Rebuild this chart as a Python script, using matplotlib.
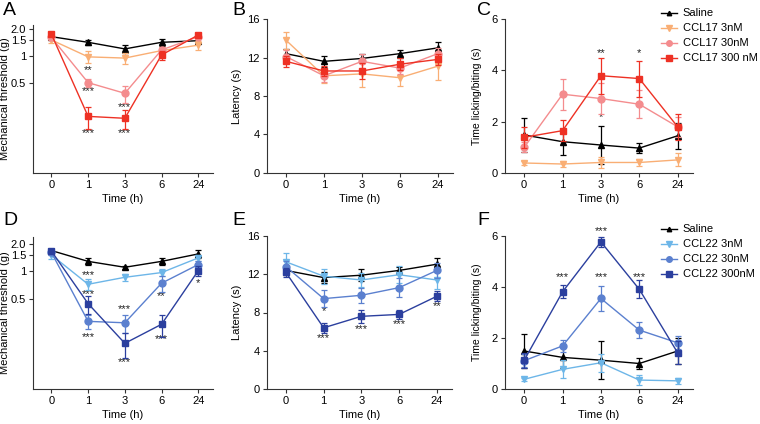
import numpy as np
import matplotlib
matplotlib.use("Agg")
from matplotlib import pyplot as plt
from matplotlib.ticker import FixedLocator, NullLocator

plt.rcParams['font.family'] = ['Liberation Sans', 'DejaVu Sans']
plt.rcParams['font.size'] = 8

times = ["0", "1", "3", "6", "24"]

# panel A - mechanical threshold, CCL17
a_saline = [1.63, 1.41, 1.19, 1.41, 1.47]
a_saline_err = [0.10, 0.10, 0.12, 0.12, 0.10]
a_3 = [1.50, 0.97, 0.94, 1.14, 1.31]
a_3_err = [0.12, 0.15, 0.13, 0.10, 0.15]
a_30 = [1.60, 0.50, 0.38, 1.16, 1.63]
a_30_err = [0.10, 0.05, 0.08, 0.10, 0.10]
a_300 = [1.74, 0.21, 0.20, 1.02, 1.70]
a_300_err = [0.08, 0.06, 0.05, 0.12, 0.10]

# panel B - latency, CCL17
b_saline = [12.4, 11.6, 11.9, 12.4, 13.0]
b_saline_err = [0.5, 0.6, 0.5, 0.4, 0.6]
b_3 = [13.8, 10.1, 10.3, 9.9, 11.1]
b_3_err = [0.9, 0.8, 1.4, 0.9, 1.4]
b_30 = [12.1, 10.1, 11.6, 10.9, 12.4]
b_30_err = [0.7, 0.6, 0.8, 0.6, 0.6]
b_300 = [11.6, 10.6, 10.6, 11.3, 11.8]
b_300_err = [0.6, 0.5, 0.8, 0.6, 0.6]

# panel C - licking/biting, CCL17
c_saline = [1.48, 1.22, 1.09, 0.97, 1.45]
c_saline_err = [0.65, 0.5, 0.75, 0.2, 0.5]
c_3 = [0.39, 0.35, 0.41, 0.41, 0.51]
c_3_err = [0.08, 0.1, 0.2, 0.15, 0.25]
c_30 = [1.0, 3.07, 2.9, 2.68, 1.8]
c_30_err = [0.2, 0.6, 0.6, 0.55, 0.4]
c_300 = [1.39, 1.65, 3.79, 3.68, 1.8]
c_300_err = [0.4, 0.4, 0.7, 0.7, 0.5]

# panel D - mechanical threshold, CCL22
d_saline = [1.70, 1.29, 1.11, 1.29, 1.56]
d_saline_err = [0.08, 0.10, 0.04, 0.10, 0.15]
d_3 = [1.52, 0.72, 0.86, 0.97, 1.41]
d_3_err = [0.15, 0.10, 0.08, 0.08, 0.10]
d_30 = [1.62, 0.28, 0.27, 0.74, 1.19]
d_30_err = [0.10, 0.05, 0.06, 0.15, 0.10]
d_300 = [1.68, 0.44, 0.16, 0.26, 1.02]
d_300_err = [0.08, 0.10, 0.05, 0.07, 0.12]

# panel E - latency, CCL22
e_saline = [12.4, 11.65, 11.9, 12.4, 13.05]
e_saline_err = [0.5, 0.6, 0.6, 0.4, 0.6]
e_3 = [13.3, 11.8, 11.4, 11.95, 11.4]
e_3_err = [0.9, 0.8, 0.7, 0.9, 0.9]
e_30 = [12.8, 9.45, 9.8, 10.6, 12.4]
e_30_err = [0.6, 0.9, 0.8, 1.0, 0.8]
e_300 = [12.2, 6.4, 7.6, 7.8, 9.7]
e_300_err = [0.5, 0.5, 0.7, 0.5, 0.5]

# panel F - licking/biting, CCL22
f_saline = [1.49, 1.24, 1.13, 1.0, 1.49]
f_saline_err = [0.65, 0.4, 0.75, 0.2, 0.5]
f_3 = [0.38, 0.77, 1.03, 0.35, 0.32]
f_3_err = [0.05, 0.35, 0.35, 0.2, 0.12]
f_30 = [1.11, 1.69, 3.55, 2.31, 1.81]
f_30_err = [0.25, 0.25, 0.5, 0.3, 0.25]
f_300 = [1.13, 3.81, 5.77, 3.91, 1.42]
f_300_err = [0.3, 0.25, 0.2, 0.35, 0.45]

labels17 = ["Saline", "CCL17 3nM", "CCL17 30nM", "CCL17 300 nM"]
labels22 = ["Saline", "CCL22 3nM", "CCL22 30nM", "CCL22 300nM"]

# significance marks: (time index, y, text)
stars_a = [(1, 0.69, "**"), (1, 0.40, "***"), (2, 0.27, "***"), (1, 0.135, "***"), (2, 0.135, "***")]
stars_c = [(2, 4.67, "**"), (3, 4.67, "*"), (2, 2.16, "*")]
stars_d = [(1, 0.92, "***"), (1, 0.56, "***"), (1, 0.19, "***"), (2, 0.385, "***"), (2, 0.10, "***"),
           (3, 0.53, "**"), (3, 0.18, "***"), (4, 0.75, "*")]
stars_e = [(1, 8.2, "*"), (1, 5.3, "***"), (2, 6.3, "***"), (3, 6.8, "***"), (4, 8.7, "**")]
stars_f = [(2, 6.18, "***"), (1, 4.38, "***"), (2, 4.38, "***"), (3, 4.38, "***")]

reds = ["black", "#F9AE74", "#F48C8E", "#EE3124"]
blues = ["black", "#6DB6E8", "#5B80CF", "#2B3F9E"]
markers = ["^", "v", "o", "s"]
msizes = [4, 5, 5, 5]

fig = plt.figure(figsize=(7.6, 4.24), dpi=100)
W, H = 760.0, 424.0


def make_ax(l, t, r, b):
    return fig.add_axes([l / W, 1 - b / H, (r - l) / W, (b - t) / H])


axA = make_ax(33, 25, 213, 173)
axB = make_ax(267, 19, 453, 173)
axC = make_ax(505, 19, 693, 173)
axD = make_ax(33, 237, 213, 389)
axE = make_ax(267, 236, 452, 389)
axF = make_ax(505, 236, 693, 389)

x = np.arange(len(times))
FS = 7.5


def draw(ax, series, errs, colors, labels):
    hs = []
    for i, (s, e) in enumerate(zip(series, errs)):
        h = ax.errorbar(x, s, yerr=e, color=colors[i], marker=markers[i], ms=msizes[i],
                        lw=1, elinewidth=0.9, capsize=2, capthick=0.9, label=labels[i],
                        zorder=3 + i)
        hs.append(h[0])
    for sp in ["top", "right"]:
        ax.spines[sp].set_visible(False)
    ax.spines["left"].set_color("#333333")
    ax.spines["bottom"].set_color("#333333")
    ax.set_xticks(x)
    ax.set_xticklabels(times)
    ax.set_xlim(-0.5, 4.4)
    ax.set_xlabel("Time (h)", fontsize=FS + 0.5, labelpad=3)
    ax.tick_params(length=3, width=0.8, color="#333333", labelsize=FS + 0.5, pad=2)
    return hs


def stars(ax, marks):
    for xi, yv, t in marks:
        ax.text(xi, yv, t, ha="center", va="center", fontsize=8, color="#222222")


draw(axA, [a_saline, a_3, a_30, a_300], [a_saline_err, a_3_err, a_30_err, a_300_err], reds, labels17)
draw(axB, [b_saline, b_3, b_30, b_300], [b_saline_err, b_3_err, b_30_err, b_300_err], reds, labels17)
hC = draw(axC, [c_saline, c_3, c_30, c_300], [c_saline_err, c_3_err, c_30_err, c_300_err], reds, labels17)
draw(axD, [d_saline, d_3, d_30, d_300], [d_saline_err, d_3_err, d_30_err, d_300_err], blues, labels22)
draw(axE, [e_saline, e_3, e_30, e_300], [e_saline_err, e_3_err, e_30_err, e_300_err], blues, labels22)
hF = draw(axF, [f_saline, f_3, f_30, f_300], [f_saline_err, f_3_err, f_30_err, f_300_err], blues, labels22)

for ax, lo, hi in [(axA, 0.049, 2.2), (axD, 0.05, 2.4)]:
    ax.set_yscale("log")
    ax.set_ylim(lo, hi)
    ax.yaxis.set_major_locator(FixedLocator([0.5, 1, 1.5, 2.0]))
    ax.yaxis.set_minor_locator(NullLocator())
    ax.set_yticklabels(["0.5", "1", "1.5", "2.0"])
    ax.set_ylabel("Mechanical threshold (g)", fontsize=FS + 0.5)
    ax.yaxis.set_label_coords(-23 / 180, 0.5)

for ax in [axB, axE]:
    ax.set_ylim(0, 16)
    ax.set_yticks([0, 4, 8, 12, 16])
    ax.set_ylabel("Latency (s)", fontsize=FS + 0.5, labelpad=4)

for ax in [axC, axF]:
    ax.set_ylim(0, 6)
    ax.set_yticks([0, 2, 4, 6])
    ax.set_ylabel("Time licking/biting (s)", fontsize=FS, labelpad=7)

stars(axA, stars_a)
stars(axC, stars_c)
stars(axD, stars_d)
stars(axE, stars_e)
stars(axF, stars_f)

for lab, px, py in [("A", 3, 2), ("B", 232, 2), ("C", 477, 2), ("D", 3, 212), ("E", 232, 212), ("F", 477, 212)]:
    fig.text(px / W, 1 - py / H, lab, fontsize=14, va="top", ha="left")

for hs, labs, top in [(hC, labels17, 4), (hF, labels22, 220)]:
    fig.legend(hs, labs, loc="upper left", bbox_to_anchor=(657 / W, 1 - top / H),
               frameon=False, fontsize=8, handlelength=1.4, handletextpad=0.5,
               labelspacing=0.45, borderaxespad=0, markerscale=0.8)

fig.savefig("out.png", dpi=100)
